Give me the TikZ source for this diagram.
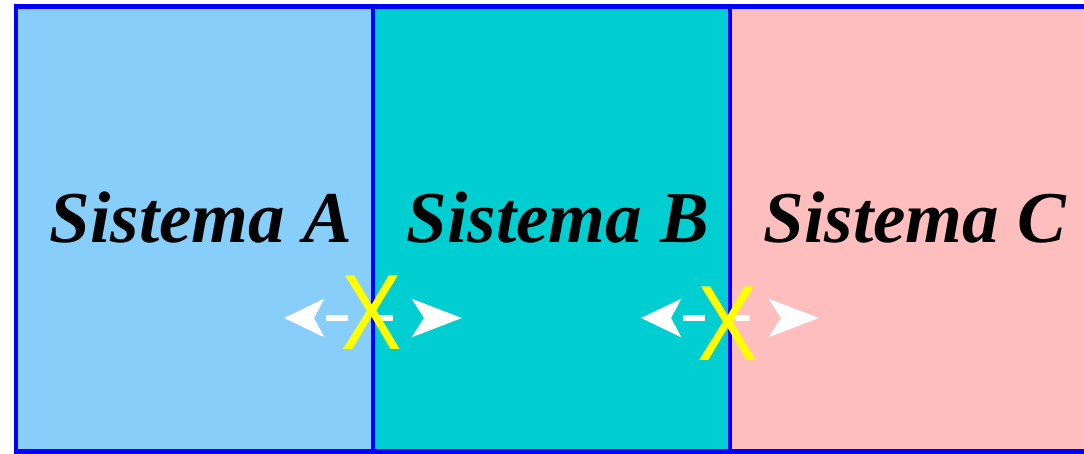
\documentclass[tikz,border=0pt]{standalone}
\usepackage{fontspec}
\setmainfont{Liberation Serif}
\newfontfamily\xfont{Liberation Sans}
\usetikzlibrary{arrows.meta}
\definecolor{sysA}{RGB}{135,206,250}
\definecolor{sysB}{RGB}{0,206,209}
\definecolor{sysC}{RGB}{255,190,190}
\definecolor{frame}{RGB}{0,0,255}
\definecolor{cross}{RGB}{255,255,0}
\tikzset{
  x=1pt, y=1pt,
  panel/.style={draw=frame, line width=4.5pt},
  label/.style={anchor=base, inner sep=0pt, font=\fontsize{73}{80}\selectfont\bfseries\itshape},
  link/.style={white, line width=6pt, dash pattern=on 22pt off 30pt on 15pt off 80pt, dash phase=133pt,
    {Stealth[length=40pt, width=38pt, inset=10pt]}-{Stealth[length=50pt, width=38pt, inset=12pt]}},
  blocked/.style={cross, inner sep=0pt, xscale=0.85, font=\xfont\fontsize{107}{110}\selectfont}
}
\begin{document}
\begin{tikzpicture}
\useasboundingbox (0,0) rectangle (1084,453);
% three adjoining systems
\fill[sysA] (16,1.5) rectangle (373,446.5);
\fill[sysB] (373,1.5) rectangle (730,446.5);
\fill[sysC] (730,1.5) rectangle (1087,446.5);
\draw[panel] (16,1.5) rectangle (1087,446.5);
\draw[panel] (373,1.5) -- (373,446.5);
\draw[panel] (730,1.5) -- (730,446.5);
% names
\node[label] (A) at (201,210) {Sistema A};
\node[label] (B) at (558,210) {Sistema B};
\node[label] (C) at (915,210) {Sistema C};
% interrupted links between neighbours
\coordinate (ab1) at (284,135);
\coordinate (ab2) at (462,135);
\coordinate (bc1) at (641,135);
\coordinate (bc2) at (819,135);
\draw[link] (ab1) -- (ab2);
\draw[link] (bc1) -- (bc2);
\node[blocked] (xab) at (372,140) {X};
\node[blocked] (xbc) at (728,129) {X};
\end{tikzpicture}
\end{document}
